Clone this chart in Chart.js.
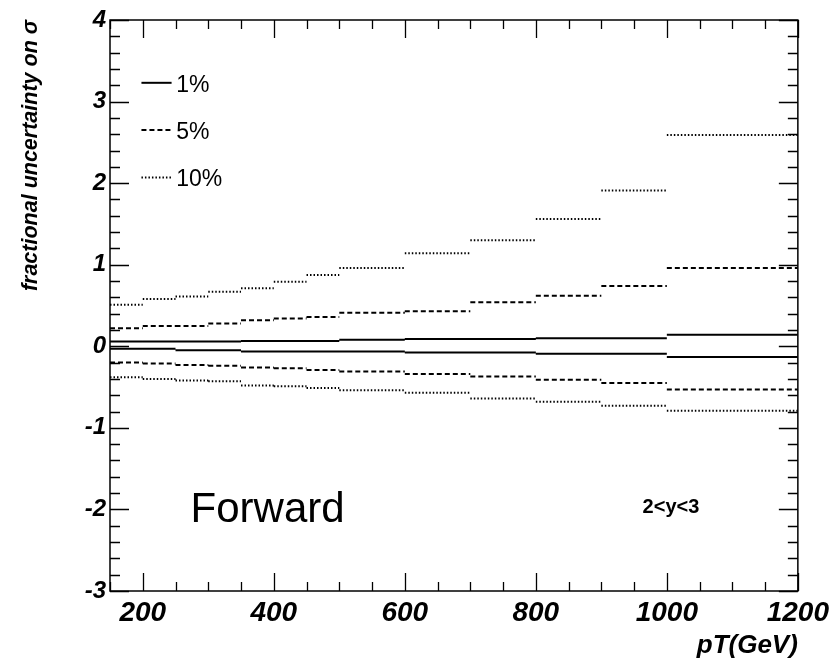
<!DOCTYPE html>
<html>
<head>
<meta charset="utf-8">
<script src="https://cdn.jsdelivr.net/npm/chart.js@4/dist/chart.umd.min.js"></script>
<style>
    html, body { margin: 0; padding: 0; background: #fff; }
    #marco { width: 834px; height: 667px; }
</style>
</head>
<body>
<div id="marco"><canvas id="grafica"></canvas></div>
<script>
// bordes de los bins en pT (GeV)
const bordes = [150, 200, 250, 300, 350, 400, 450, 500, 600, 700, 800, 900, 1000, 1200];

// incertidumbre fraccional por bin, bandas superior e inferior
const sup1 = [0.06, 0.06, 0.06, 0.06, 0.066, 0.066, 0.066, 0.08, 0.09, 0.09, 0.10, 0.10, 0.14];
const inf1 = [-0.03, -0.03, -0.05, -0.05, -0.065, -0.065, -0.065, -0.065, -0.077, -0.077, -0.09, -0.09, -0.13];
const sup5 = [0.22, 0.25, 0.25, 0.28, 0.32, 0.34, 0.36, 0.41, 0.43, 0.54, 0.62, 0.74, 0.96];
const inf5 = [-0.20, -0.21, -0.23, -0.24, -0.26, -0.27, -0.29, -0.31, -0.34, -0.37, -0.41, -0.45, -0.53];
const sup10 = [0.51, 0.58, 0.61, 0.67, 0.71, 0.79, 0.875, 0.96, 1.14, 1.30, 1.56, 1.91, 2.59];
const inf10 = [-0.38, -0.40, -0.42, -0.43, -0.48, -0.49, -0.51, -0.54, -0.57, -0.64, -0.68, -0.73, -0.79];

const etiquetasLeyenda = ["1%", "5%", "10%"];
const yLeyenda = [3.23, 2.65, 2.07];
const trazos = [[], [5, 3], [1.5, 2]];

const fuente = "'Liberation Sans', Arial, Helvetica, sans-serif";

// cada bin es un segmento horizontal, sin verticales entre bins
function escalones(valores) {
    const puntos = [];
    valores.forEach((v, i) => {
        puntos.push({ x: bordes[i], y: v });
        puntos.push({ x: bordes[i + 1], y: v });
        puntos.push({ x: bordes[i + 1], y: null });
    });
    return puntos;
}

function serie(nombre, valores, trazo) {
    return {
        label: nombre,
        data: escalones(valores),
        borderColor: "#000",
        borderWidth: 2,
        borderDash: trazo,
        borderCapStyle: "butt",
        pointRadius: 0,
        spanGaps: false,
        fill: false
    };
}

const marcasRoot = {
    id: "marcasRoot",
    afterDraw(chart) {
        const { ctx, chartArea: a, scales: { x, y } } = chart;
        ctx.save();
        ctx.strokeStyle = "#000";
        ctx.lineWidth = 1.3;
        ctx.beginPath();
        x.ticks.forEach((t) => {
            const px = Math.round(x.getPixelForValue(t.value)) + 0.5;
            const largo = t.value % 200 === 0 ? 18 : 9;
            ctx.moveTo(px, a.bottom); ctx.lineTo(px, a.bottom - largo);
            ctx.moveTo(px, a.top); ctx.lineTo(px, a.top + largo);
        });
        y.ticks.forEach((t) => {
            const py = Math.round(y.getPixelForValue(t.value)) + 0.5;
            const entero = Math.abs(t.value - Math.round(t.value)) < 1e-6;
            const largo = entero ? 19 : 10;
            ctx.moveTo(a.left, py); ctx.lineTo(a.left + largo, py);
            ctx.moveTo(a.right, py); ctx.lineTo(a.right - largo, py);
        });
        ctx.stroke();
        ctx.lineWidth = 1.5;
        ctx.strokeRect(a.left, a.top, a.right - a.left, a.bottom - a.top);

        // leyenda
        ctx.fillStyle = "#000";
        ctx.font = "23px " + fuente;
        ctx.textBaseline = "alphabetic";
        ctx.textAlign = "left";
        etiquetasLeyenda.forEach((txt, i) => {
            const py = y.getPixelForValue(yLeyenda[i]);
            ctx.beginPath();
            ctx.lineWidth = 2;
            ctx.setLineDash(trazos[i]);
            ctx.moveTo(x.getPixelForValue(198), py);
            ctx.lineTo(x.getPixelForValue(244), py);
            ctx.stroke();
            ctx.setLineDash([]);
            ctx.fillText(txt, x.getPixelForValue(251), py + 9);
        });

        // textos
        ctx.font = "42px " + fuente;
        ctx.fillText("Forward", x.getPixelForValue(273), y.getPixelForValue(-2.15));
        ctx.font = "bold 20px " + fuente;
        ctx.fillText("2<y<3", x.getPixelForValue(963), y.getPixelForValue(-2.04));
        ctx.restore();
    }
};

new Chart(document.getElementById("grafica"), {
    type: "line",
    data: {
        datasets: [
            serie("1%", sup1, trazos[0]),
            serie("1% inf", inf1, trazos[0]),
            serie("5%", sup5, trazos[1]),
            serie("5% inf", inf5, trazos[1]),
            serie("10%", sup10, trazos[2]),
            serie("10% inf", inf10, trazos[2])
        ]
    },
    options: {
        responsive: true,
        maintainAspectRatio: false,
        animation: false,
        layout: { padding: { top: 20, right: 34, left: 0, bottom: 0 } },
        plugins: {
            legend: { display: false },
            tooltip: { enabled: false }
        },
        scales: {
            x: {
                type: "linear",
                min: 150,
                max: 1200,
                grid: { display: false, drawTicks: false },
                border: { display: false },
                ticks: {
                    stepSize: 50,
                    autoSkip: false,
                    maxRotation: 0,
                    padding: 5,
                    color: "#000",
                    font: { family: fuente, size: 28, style: "italic", weight: "bold" },
                    callback: (v) => (v % 200 === 0 ? String(v) : "")
                },
                title: {
                    display: true,
                    text: "pT(GeV)",
                    align: "end",
                    color: "#000",
                    padding: { top: 0, bottom: 6 },
                    font: { family: fuente, size: 26, style: "italic", weight: "bold" }
                },
                afterFit: (escala) => { escala.height = 76; }
            },
            y: {
                min: -3,
                max: 4,
                grid: { display: false, drawTicks: false },
                border: { display: false },
                ticks: {
                    stepSize: 0.2,
                    autoSkip: false,
                    padding: 4,
                    color: "#000",
                    font: { family: fuente, size: 24, style: "italic", weight: "bold" },
                    callback: (v) => (Math.abs(v - Math.round(v)) < 1e-6 ? String(Math.round(v)) : "")
                },
                title: {
                    display: true,
                    text: "fractional uncertainty on σ",
                    align: "end",
                    color: "#000",
                    padding: { top: 18, bottom: 0 },
                    font: { family: fuente, size: 21.5, style: "italic", weight: "bold" }
                },
                afterFit: (escala) => { escala.width = 110; }
            }
        }
    },
    plugins: [marcasRoot]
});
</script>
</body>
</html>
